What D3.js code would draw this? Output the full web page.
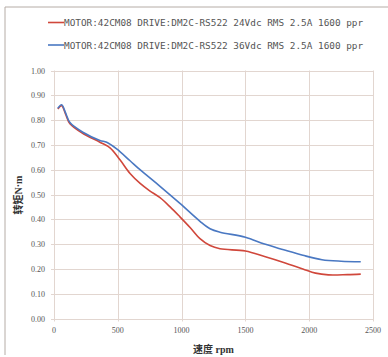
<!DOCTYPE html>
<html><head><meta charset="utf-8">
<script src="https://cdn.jsdelivr.net/npm/d3@7"></script>
<style>html,body{margin:0;padding:0;background:#fff;}svg{display:block;}</style>
</head><body>
<script>
const legendLabels = [
  "MOTOR:42CM08 DRIVE:DM2C-RS522 24Vdc RMS 2.5A 1600 ppr",
  "MOTOR:42CM08 DRIVE:DM2C-RS522 36Vdc RMS 2.5A 1600 ppr"
];
const seriesColors = ["#d0473b", "#4a78c2"];
const rpm24 = [30, 60, 90, 125, 230, 360, 439, 517, 596, 675, 750, 831, 910, 987, 1070, 1144, 1223, 1301, 1500, 1650, 1800, 1950, 2050, 2150, 2300, 2404];
const torque24 = [0.845, 0.858, 0.825, 0.785, 0.745, 0.711, 0.688, 0.64, 0.585, 0.545, 0.515, 0.487, 0.45, 0.41, 0.365, 0.322, 0.294, 0.281, 0.272, 0.25, 0.226, 0.2, 0.183, 0.176, 0.177, 0.179];
const rpm36 = [30, 60, 90, 125, 230, 360, 413, 491, 596, 674, 831, 987, 1144, 1223, 1301, 1500, 1650, 1800, 1950, 2100, 2250, 2404];
const torque36 = [0.848, 0.862, 0.83, 0.79, 0.75, 0.718, 0.711, 0.684, 0.636, 0.6, 0.533, 0.464, 0.392, 0.362, 0.348, 0.328, 0.3, 0.277, 0.255, 0.237, 0.231, 0.229];
const xTicks = [0, 500, 1000, 1500, 2000, 2500];
const yTicks = [0, 0.1, 0.2, 0.3, 0.4, 0.5, 0.6, 0.7, 0.8, 0.9, 1.0];
const xTitle = "速度 rpm";
const yTitle = "转矩N·m";

const W = 388, H = 357;
const svg = d3.select("body").append("svg").attr("width", W).attr("height", H);
svg.append("rect").attr("width", W).attr("height", H).attr("fill", "#fff");
// outer frame
svg.append("path").attr("d", `M5,355 L5,7 L392,7`).attr("fill","none").attr("stroke","#b5aca6").attr("stroke-width",1);

const x = d3.scaleLinear().domain([0, 2500]).range([54, 373]);
const y = d3.scaleLinear().domain([0, 1]).range([318.5, 70.5]);

const g = svg.append("g");
// grid
g.selectAll(".hg").data(yTicks).join("line")
  .attr("x1", x(0)-3).attr("x2", x(2500)).attr("y1", d=>Math.round(y(d))+0.5).attr("y2", d=>Math.round(y(d))+0.5)
  .attr("stroke", "#e2d6d0").attr("stroke-width", 1);
g.selectAll(".vg").data(xTicks).join("line")
  .attr("y1", y(1)).attr("y2", y(0)+3).attr("x1", d=>Math.round(x(d))+0.5).attr("x2", d=>Math.round(x(d))+0.5)
  .attr("stroke", "#e2d6d0").attr("stroke-width", 1);

// axes labels
const serif = "'Liberation Serif','DejaVu Serif',serif";
g.selectAll(".yl").data(yTicks).join("text")
  .attr("x", 45).attr("y", d=>y(d)+3).attr("text-anchor","end")
  .attr("font-family", serif).attr("font-size", 8).attr("fill","#555")
  .text(d=>d3.format(".2f")(d));
g.selectAll(".xl").data(xTicks).join("text")
  .attr("x", d=>x(d)).attr("y", 333).attr("text-anchor","middle")
  .attr("font-family", serif).attr("font-size", 8).attr("fill","#555")
  .text(d=>d);

svg.append("text").attr("x", (x(0)+x(2500))/2).attr("y", 353).attr("text-anchor","middle")
  .attr("font-family", "'Liberation Serif','Noto Sans CJK SC',serif").attr("font-weight","bold")
  .attr("font-size", 10).attr("fill","#333").text(xTitle);
svg.append("text").attr("transform","translate(22,195) rotate(-90)").attr("text-anchor","middle")
  .attr("font-family", "'Liberation Serif','Noto Sans CJK SC',serif").attr("font-weight","bold")
  .attr("font-size", 10).attr("fill","#333").text(yTitle);

// lines
const line = d3.line().x(d=>x(d[0])).y(d=>y(d[1])).curve(d3.curveCatmullRom.alpha(0.5));
const series = [d3.zip(rpm24, torque24), d3.zip(rpm36, torque36)];
series.forEach((s,i)=>{
  g.append("path").datum(s).attr("d", line).attr("fill","none")
   .attr("stroke", seriesColors[i]).attr("stroke-width", 1.6).attr("stroke-linejoin","round");
});

// legend
legendLabels.forEach((t,i)=>{
  const ly = 22.5 + i*22.5;
  svg.append("line").attr("x1",48).attr("x2",64).attr("y1",ly).attr("y2",ly)
    .attr("stroke", seriesColors[i]).attr("stroke-width",1.6);
  svg.append("text").attr("x",64).attr("y",ly+3.5)
    .attr("font-family","'DejaVu Sans Mono',monospace").attr("font-size",9.4).attr("fill","#555").text(t);
});
</script>
</body></html>
